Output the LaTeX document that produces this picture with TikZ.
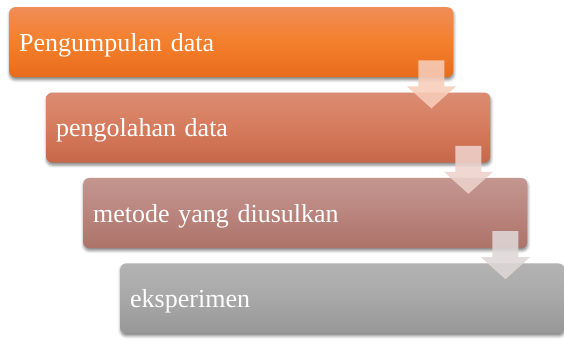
\documentclass[tikz,border=0pt]{standalone}
\usepackage{fontspec}
\setmainfont{Liberation Serif}
\usetikzlibrary{positioning,shadows.blur}

\definecolor{onetop}{HTML}{F08D57}
\definecolor{onemid}{HTML}{F47F2B}
\definecolor{onebot}{HTML}{E76C1C}
\definecolor{twotop}{HTML}{DA8C72}
\definecolor{twomid}{HTML}{D67B5D}
\definecolor{twobot}{HTML}{C6674A}
\definecolor{threetop}{HTML}{C39690}
\definecolor{threemid}{HTML}{BA857E}
\definecolor{threebot}{HTML}{AC7368}
\definecolor{fourtop}{HTML}{B3B3B3}
\definecolor{fourmid}{HTML}{A8A8A8}
\definecolor{fourbot}{HTML}{979797}
\definecolor{downone}{HTML}{F7CDB9}
\definecolor{downtwo}{HTML}{EED2CC}
\definecolor{downthree}{HTML}{DED7D7}

\begin{document}
\begin{tikzpicture}
	\tikzstyle{stage} = [rectangle,rounded corners=6pt,minimum width=444pt,minimum height=70pt,inner xsep=10pt,text width=424pt,align=left,text=white,font=\fontsize{26}{30}\selectfont,text depth=0pt,blur shadow={shadow xshift=0.5pt,shadow yshift=-2.5pt,shadow blur radius=3pt,shadow opacity=50}]
	\tikzstyle{flow} = [opacity=0.88]

		\useasboundingbox (0,0) rectangle (564pt,340pt);

		\node[stage,anchor=north west,top color=onetop,bottom color=onebot,middle color=onemid] (s1) at (9pt,333pt) {Pengumpulan data};
		\node[stage,anchor=north west,top color=twotop,bottom color=twobot,middle color=twomid] (s2) at ([xshift=37pt,yshift=-15pt]s1.south west) {pengolahan data};
		\node[stage,anchor=north west,top color=threetop,bottom color=threebot,middle color=threemid] (s3) at ([xshift=37pt,yshift=-15pt]s2.south west) {metode yang diusulkan};
		\node[stage,anchor=north west,top color=fourtop,bottom color=fourbot,middle color=fourmid] (s4) at ([xshift=37pt,yshift=-15pt]s3.south west) {eksperimen};

		\fill[flow,fill=downone] ([xshift=-35pt,yshift=17pt]s1.south east) -- ++(26pt,0) -- ++(0,-26pt) -- ++(11.5pt,0) -- ++(-24.5pt,-22pt) -- ++(-24.5pt,22pt) -- ++(11.5pt,0) -- cycle;
		\fill[flow,fill=downtwo] ([xshift=-35pt,yshift=17pt]s2.south east) -- ++(26pt,0) -- ++(0,-26pt) -- ++(11.5pt,0) -- ++(-24.5pt,-22pt) -- ++(-24.5pt,22pt) -- ++(11.5pt,0) -- cycle;
		\fill[flow,fill=downthree] ([xshift=-35pt,yshift=17pt]s3.south east) -- ++(26pt,0) -- ++(0,-26pt) -- ++(11.5pt,0) -- ++(-24.5pt,-22pt) -- ++(-24.5pt,22pt) -- ++(11.5pt,0) -- cycle;

\end{tikzpicture}
\end{document}
